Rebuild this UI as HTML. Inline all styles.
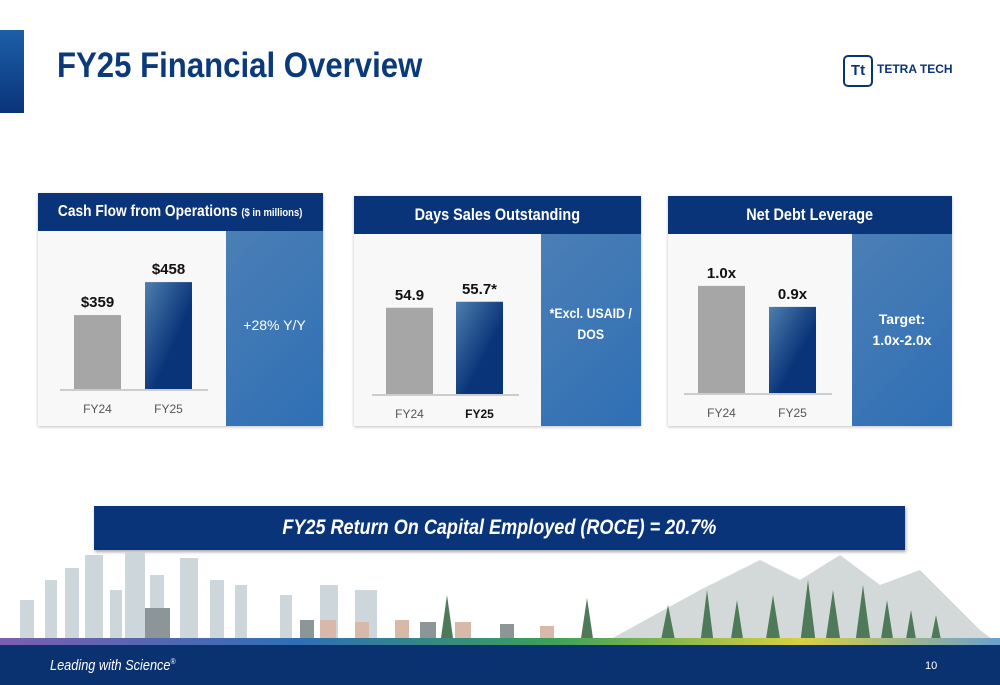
<!DOCTYPE html>
<html><head><meta charset="utf-8"><style>
body{margin:0;width:1000px;height:685px;position:relative;overflow:hidden;background:#fff;font-family:"Liberation Sans",sans-serif}
.abs{position:absolute}
.hdr{position:absolute;background:#0a3479;color:#fff;font-weight:bold;font-size:17px;display:flex;align-items:center;justify-content:center;white-space:nowrap}
.hdr span.c{display:inline-block;transform:scaleX(0.85)}
.panel{position:absolute;background:#f8f8f8;box-shadow:0 1px 3px rgba(0,0,0,.25)}
.side{position:absolute;background:linear-gradient(135deg,#4b7fb5,#2f6fb5);color:#fff;font-weight:bold;font-size:14px;display:flex;align-items:center;justify-content:center;text-align:center;line-height:21px;white-space:nowrap}
svg text{font-family:"Liberation Sans",sans-serif}
</style></head><body>
<div class="abs" style="left:0;top:30px;width:24px;height:83px;background:linear-gradient(#1d5fa8,#0a3479)"></div>
<div class="abs" style="left:57px;top:46px;font-size:35px;font-weight:bold;color:#0a3a7a;transform:scaleX(0.89);transform-origin:left top;white-space:nowrap">FY25 Financial Overview</div>
<div class="abs" style="left:843px;top:55px;width:30px;height:32px;border:2px solid #0a3479;border-radius:5px;box-sizing:border-box;color:#0a3479;font-weight:bold;font-size:15px;text-align:center;line-height:28px">Tt</div>
<div class="abs" style="left:877px;top:62px;font-size:12px;font-weight:bold;color:#0a3479">TETRA TECH</div>

<div class="panel" style="left:38px;top:193px;width:285px;height:233px"></div>
<div class="hdr" style="left:38px;top:193px;width:285px;height:38px;font-size:16px"><span class="c" style="transform:scaleX(0.86);white-space:nowrap">Cash Flow from Operations&nbsp;<span style="font-size:11px">($ in millions)</span></span></div>
<div class="side" style="left:226px;top:231px;width:97px;height:195px;font-weight:normal;padding-bottom:6px;box-sizing:border-box">+28% Y/Y</div>

<div class="panel" style="left:354px;top:196px;width:287px;height:230px"></div>
<div class="hdr" style="left:354px;top:196px;width:287px;height:38px"><span class="c">Days Sales Outstanding</span></div>
<div class="side" style="left:541px;top:234px;width:100px;height:192px;padding-bottom:12px;box-sizing:border-box"><span style="display:inline-block;transform:scaleX(0.88)">*Excl. USAID /<br>DOS</span></div>

<div class="panel" style="left:668px;top:196px;width:284px;height:230px"></div>
<div class="hdr" style="left:668px;top:196px;width:284px;height:38px"><span class="c">Net Debt Leverage</span></div>
<div class="side" style="left:852px;top:234px;width:100px;height:192px">Target:<br>1.0x-2.0x</div>

<svg class="abs" style="left:0;top:0" width="1000" height="685">
<defs><linearGradient id="bg" x1="0" y1="0" x2="1" y2="1"><stop offset="0" stop-color="#4d7fae"/><stop offset="0.6" stop-color="#0a3479"/></linearGradient></defs>
<g id="c1"></g><g id="c2"></g><g id="c3"></g>
</svg>

<div class="abs" style="left:94px;top:506px;width:811px;height:44px;background:#0a3479;box-shadow:1px 2px 3px rgba(0,0,0,.35);color:#fff;font-style:italic;font-weight:bold;font-size:21px;display:flex;align-items:center;justify-content:center"><span style="display:inline-block;transform:scaleX(0.86)">FY25 Return On Capital Employed (ROCE) = 20.7%</span></div>

<svg class="abs" style="left:0;top:550px" width="1000" height="95">
<defs><linearGradient id="rb"><stop offset="0" stop-color="#7b5fb0"/><stop offset="0.3" stop-color="#2f6fb5"/><stop offset="0.55" stop-color="#3aa05a"/><stop offset="0.8" stop-color="#d8d040"/><stop offset="1" stop-color="#6aa0d0"/></linearGradient></defs>
<path d="M600 95 L700 40 L760 10 L800 30 L840 5 L880 35 L920 20 L980 80 L1000 95Z" fill="#d3d8d8"/>
<g fill="#cdd6da"><rect x="20" y="50" width="14" height="45"/><rect x="45" y="30" width="12" height="65"/><rect x="65" y="18" width="14" height="77"/><rect x="85" y="5" width="18" height="90"/><rect x="110" y="40" width="12" height="55"/><rect x="125" y="2" width="20" height="93"/><rect x="150" y="25" width="14" height="70"/><rect x="180" y="8" width="18" height="87"/><rect x="210" y="30" width="14" height="65"/><rect x="235" y="35" width="12" height="60"/><rect x="280" y="45" width="12" height="50"/><rect x="320" y="35" width="18" height="60"/><rect x="355" y="40" width="22" height="55"/></g>
<g fill="#8c9598"><rect x="145" y="58" width="25" height="37"/><rect x="300" y="70" width="14" height="25"/><rect x="420" y="72" width="16" height="23"/><rect x="500" y="74" width="14" height="21"/></g>
<g fill="#d8b8a8"><rect x="320" y="70" width="16" height="25"/><rect x="355" y="72" width="14" height="23"/><rect x="395" y="70" width="14" height="25"/><rect x="455" y="72" width="16" height="23"/><rect x="540" y="76" width="14" height="19"/></g>
<g fill="#4f7a5a"><path d="M440 95 L447 45 L454 95Z"/><path d="M580 95 L587 48 L594 95Z"/><path d="M660 95 L668 55 L676 95Z"/><path d="M700 95 L707 40 L714 95Z"/><path d="M730 95 L737 50 L744 95Z"/><path d="M765 95 L773 45 L781 95Z"/><path d="M800 95 L808 30 L816 95Z"/><path d="M825 95 L833 40 L841 95Z"/><path d="M855 95 L863 35 L871 95Z"/><path d="M880 95 L887 50 L894 95Z"/><path d="M905 95 L911 60 L917 95Z"/><path d="M930 95 L936 65 L942 95Z"/></g>
<rect x="0" y="88" width="1000" height="7" fill="url(#rb)"/>
</svg>
<div class="abs" style="left:0;top:645px;width:1000px;height:40px;background:#0a3170"></div>
<div class="abs" style="left:50px;top:657px;color:#fff;font-style:italic;font-size:15px;transform:scaleX(0.85);transform-origin:left top;white-space:nowrap">Leading with Science<sup style="font-size:8px">®</sup></div>
<div class="abs" style="left:925px;top:660px;color:#fff;font-size:11px">10</div>

<script>
const cats = ["FY24","FY25"];
const cashValues = [359,458];
const cashLabels = ["$359","$458"];
const dsoValues = [54.9,55.7];
const dsoLabels = ["54.9","55.7*"];
const levValues = [1.0,0.9];
const levLabels = ["1.0x","0.9x"];
const NS="http://www.w3.org/2000/svg";
function draw(gid,vals,labels,cfg){
  const g=document.getElementById(gid);
  const y=v=>cfg.base-(v-cfg.min)*cfg.k;
  const ln=document.createElementNS(NS,"line");
  
  
  ln.setAttribute("x1",cfg.x0-14);ln.setAttribute("x2",cfg.x0+cfg.step+cfg.w+16);
  ln.setAttribute("y1",cfg.base+1);ln.setAttribute("y2",cfg.base+1);
  ln.setAttribute("stroke","#ccc");ln.setAttribute("stroke-width","2");g.appendChild(ln);
  vals.forEach((v,i)=>{
    const x=cfg.x0+i*cfg.step;
    const r=document.createElementNS(NS,"rect");
    
    
    r.setAttribute("x",x);r.setAttribute("width",cfg.w);r.setAttribute("y",y(v));r.setAttribute("height",cfg.base-y(v));
    r.setAttribute("fill",i==0?"#a6a6a6":"url(#bg)");g.appendChild(r);
    const t=document.createElementNS(NS,"text");
    
    
    t.setAttribute("x",x+cfg.w/2);t.setAttribute("y",y(v)-8);t.setAttribute("text-anchor","middle");
    t.setAttribute("font-size","15");t.setAttribute("font-weight","bold");t.setAttribute("fill","#111");t.textContent=labels[i];g.appendChild(t);
    const c=document.createElementNS(NS,"text");
    
    
    c.setAttribute("x",x+cfg.w/2);c.setAttribute("y",cfg.base+24);c.setAttribute("text-anchor","middle");
    c.setAttribute("font-size","12");c.setAttribute("fill",(cfg.boldLast&&i==1)?"#111":"#555");
    if(cfg.boldLast&&i==1)c.setAttribute("font-weight","bold");
    c.textContent=cats[i];g.appendChild(c);
  });
}
draw("c1",cashValues,cashLabels,{x0:74,step:71,w:47,base:389,min:137,k:0.333});
draw("c2",dsoValues,dsoLabels,{x0:386,step:70,w:47,base:394,min:43.4,k:7.5,boldLast:true});
draw("c3",levValues,levLabels,{x0:698,step:71,w:47,base:393,min:0.49,k:210});
</script>
</body></html>
